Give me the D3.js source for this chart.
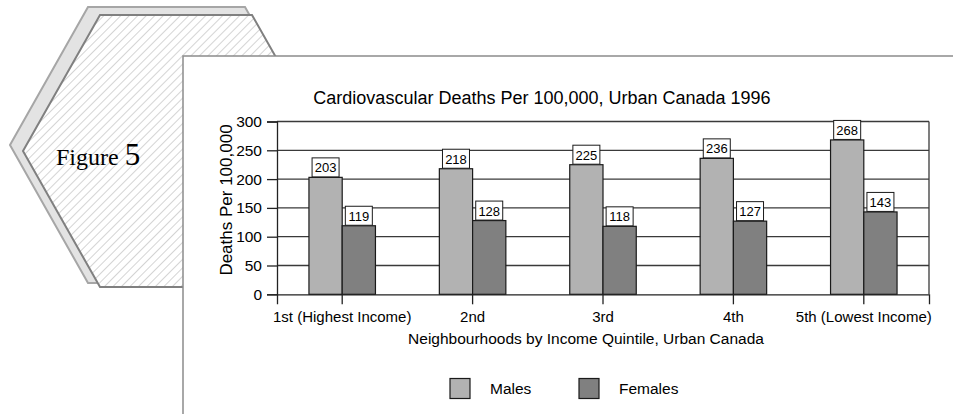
<!DOCTYPE html>
<html><head><meta charset="utf-8">
<script src="https://cdn.jsdelivr.net/npm/d3@7"></script>
<style>body{margin:0;background:#fff}svg{display:block}text{font-family:"Liberation Sans",Arial,sans-serif}</style>
</head><body><svg id="c" width="953" height="414"></svg>
<script>
const categories = ["1st (Highest Income)", "2nd", "3rd", "4th", "5th (Lowest Income)"];
const males = [203, 218, 225, 236, 268];
const females = [119, 128, 118, 127, 143];
const seriesNames = ["Males", "Females"];
const yTicks = [0, 50, 100, 150, 200, 250, 300];
const colors = ["#b2b2b2", "#808080"];

const svg = d3.select("#c");
const defs = svg.append("defs");
const pat = defs.append("pattern").attr("id","hatch").attr("patternUnits","userSpaceOnUse")
  .attr("width",6).attr("height",6).attr("patternTransform","rotate(45)");
pat.append("rect").attr("width",6).attr("height",6).attr("fill","#fff");
pat.append("line").attr("x1",0).attr("y1",0).attr("x2",0).attr("y2",6).attr("stroke","#d4d4d4").attr("stroke-width",2);

// decorative hexagons
const hex = (l, r, t, b, lx) => {
  const my = (t + b) / 2, cx = (l + r) / 2, rx = cx + (cx - lx);
  return [[l,t],[r,t],[rx,my],[r,b],[l,b],[lx,my]];
};
const line = d3.line().curve(d3.curveLinearClosed);
svg.append("path").attr("d", line(hex(88,245,7,283,10))).attr("fill","#e3e3e3").attr("stroke","#a6a6a6").attr("stroke-width",2);
svg.append("path").attr("d", line(hex(100,252,15,287,23))).attr("fill","url(#hatch)").attr("stroke","#808080").attr("stroke-width",2);
const fig = svg.append("text").attr("x",56).attr("y",165).style("font-family","'Liberation Serif','Times New Roman',serif").attr("fill","#000");
fig.append("tspan").attr("font-size",24).text("Figure ");
fig.append("tspan").attr("font-size",31).text("5");

// panel
svg.append("rect").attr("x",183).attr("y",56).attr("width",800).attr("height",400).attr("fill","#fff").attr("stroke","#8c8c8c").attr("stroke-width",1.5);

const m = {l:277, r:929, t:121.5, b:294.3};
const x = d3.scaleBand().domain(categories).range([m.l, m.r]);
const y = d3.scaleLinear().domain([0,300]).range([m.b, m.t]);
const barW = x.bandwidth() * 0.255;

svg.append("text").attr("x",542).attr("y",104).attr("text-anchor","middle").attr("font-size",18).text("Cardiovascular Deaths Per 100,000, Urban Canada 1996");

// gridlines
svg.append("g").selectAll("line").data(yTicks.slice(1)).join("line")
  .attr("x1",m.l).attr("x2",m.r).attr("y1",d=>y(d)).attr("y2",d=>y(d))
  .attr("stroke","#3a3a3a").attr("stroke-width",1.3);
svg.append("line").attr("x1",m.r).attr("x2",m.r).attr("y1",m.t).attr("y2",m.b).attr("stroke","#3a3a3a").attr("stroke-width",1.3);

// y axis
const ya = svg.append("g").attr("transform",`translate(${m.l},0)`)
  .call(d3.axisLeft(y).tickValues(yTicks).tickSize(10).tickPadding(5));
ya.select(".domain").attr("stroke","#222").attr("stroke-width",1.3);
ya.selectAll(".tick line").attr("stroke","#222").attr("stroke-width",1.3);
ya.selectAll("text").attr("font-size",15.5).attr("fill","#000").style("font-family","'Liberation Sans',Arial,sans-serif");

svg.append("text").attr("transform","translate(232,200) rotate(-90)").attr("text-anchor","middle").attr("font-size",17).text("Deaths Per 100,000");

// bars
const data = categories.map((c,i)=>({c, v:[males[i], females[i]]}));
const grp = svg.append("g").selectAll("g").data(data).join("g");
seriesNames.forEach((s,k)=>{
  grp.append("rect")
    .attr("x", d => x(d.c) + x.bandwidth()/2 + (k-1)*barW)
    .attr("y", d => y(d.v[k])).attr("width", barW).attr("height", d => y(0)-y(d.v[k]))
    .attr("fill", colors[k]).attr("stroke","#1a1a1a").attr("stroke-width",1.2);
});
// value labels
seriesNames.forEach((s,k)=>{
  const lg = grp.append("g").attr("transform", d => `translate(${x(d.c)+x.bandwidth()/2+(k-0.5)*barW},${y(d.v[k])})`);
  lg.append("rect").attr("x",-13.5).attr("y",-19.5).attr("width",27).attr("height",19).attr("fill","#fff").attr("stroke","#1a1a1a").attr("stroke-width",1);
  lg.append("text").attr("y",-5).attr("text-anchor","middle").attr("font-size",13).text(d=>d.v[k]);
});

// x axis
const xa = svg.append("g").attr("transform",`translate(0,${m.b})`)
  .call(d3.axisBottom(x).tickSize(10).tickPadding(7));
xa.select(".domain").attr("stroke","#222").attr("stroke-width",1.3);
xa.selectAll(".tick line").attr("stroke","#222").attr("stroke-width",1.3);
xa.selectAll("text").attr("font-size",15).attr("fill","#000").style("font-family","'Liberation Sans',Arial,sans-serif");

svg.append("text").attr("x",586).attr("y",344).attr("text-anchor","middle").attr("font-size",15.5).text("Neighbourhoods by Income Quintile, Urban Canada");

// legend
const legX = [450, 579];
seriesNames.forEach((s,k)=>{
  svg.append("rect").attr("x",legX[k]).attr("y",378.5).attr("width",20).attr("height",20).attr("fill",colors[k]).attr("stroke","#1a1a1a").attr("stroke-width",1.2);
  svg.append("text").attr("x",legX[k]+40).attr("y",394).attr("font-size",15.5).text(s);
});
</script></body></html>
